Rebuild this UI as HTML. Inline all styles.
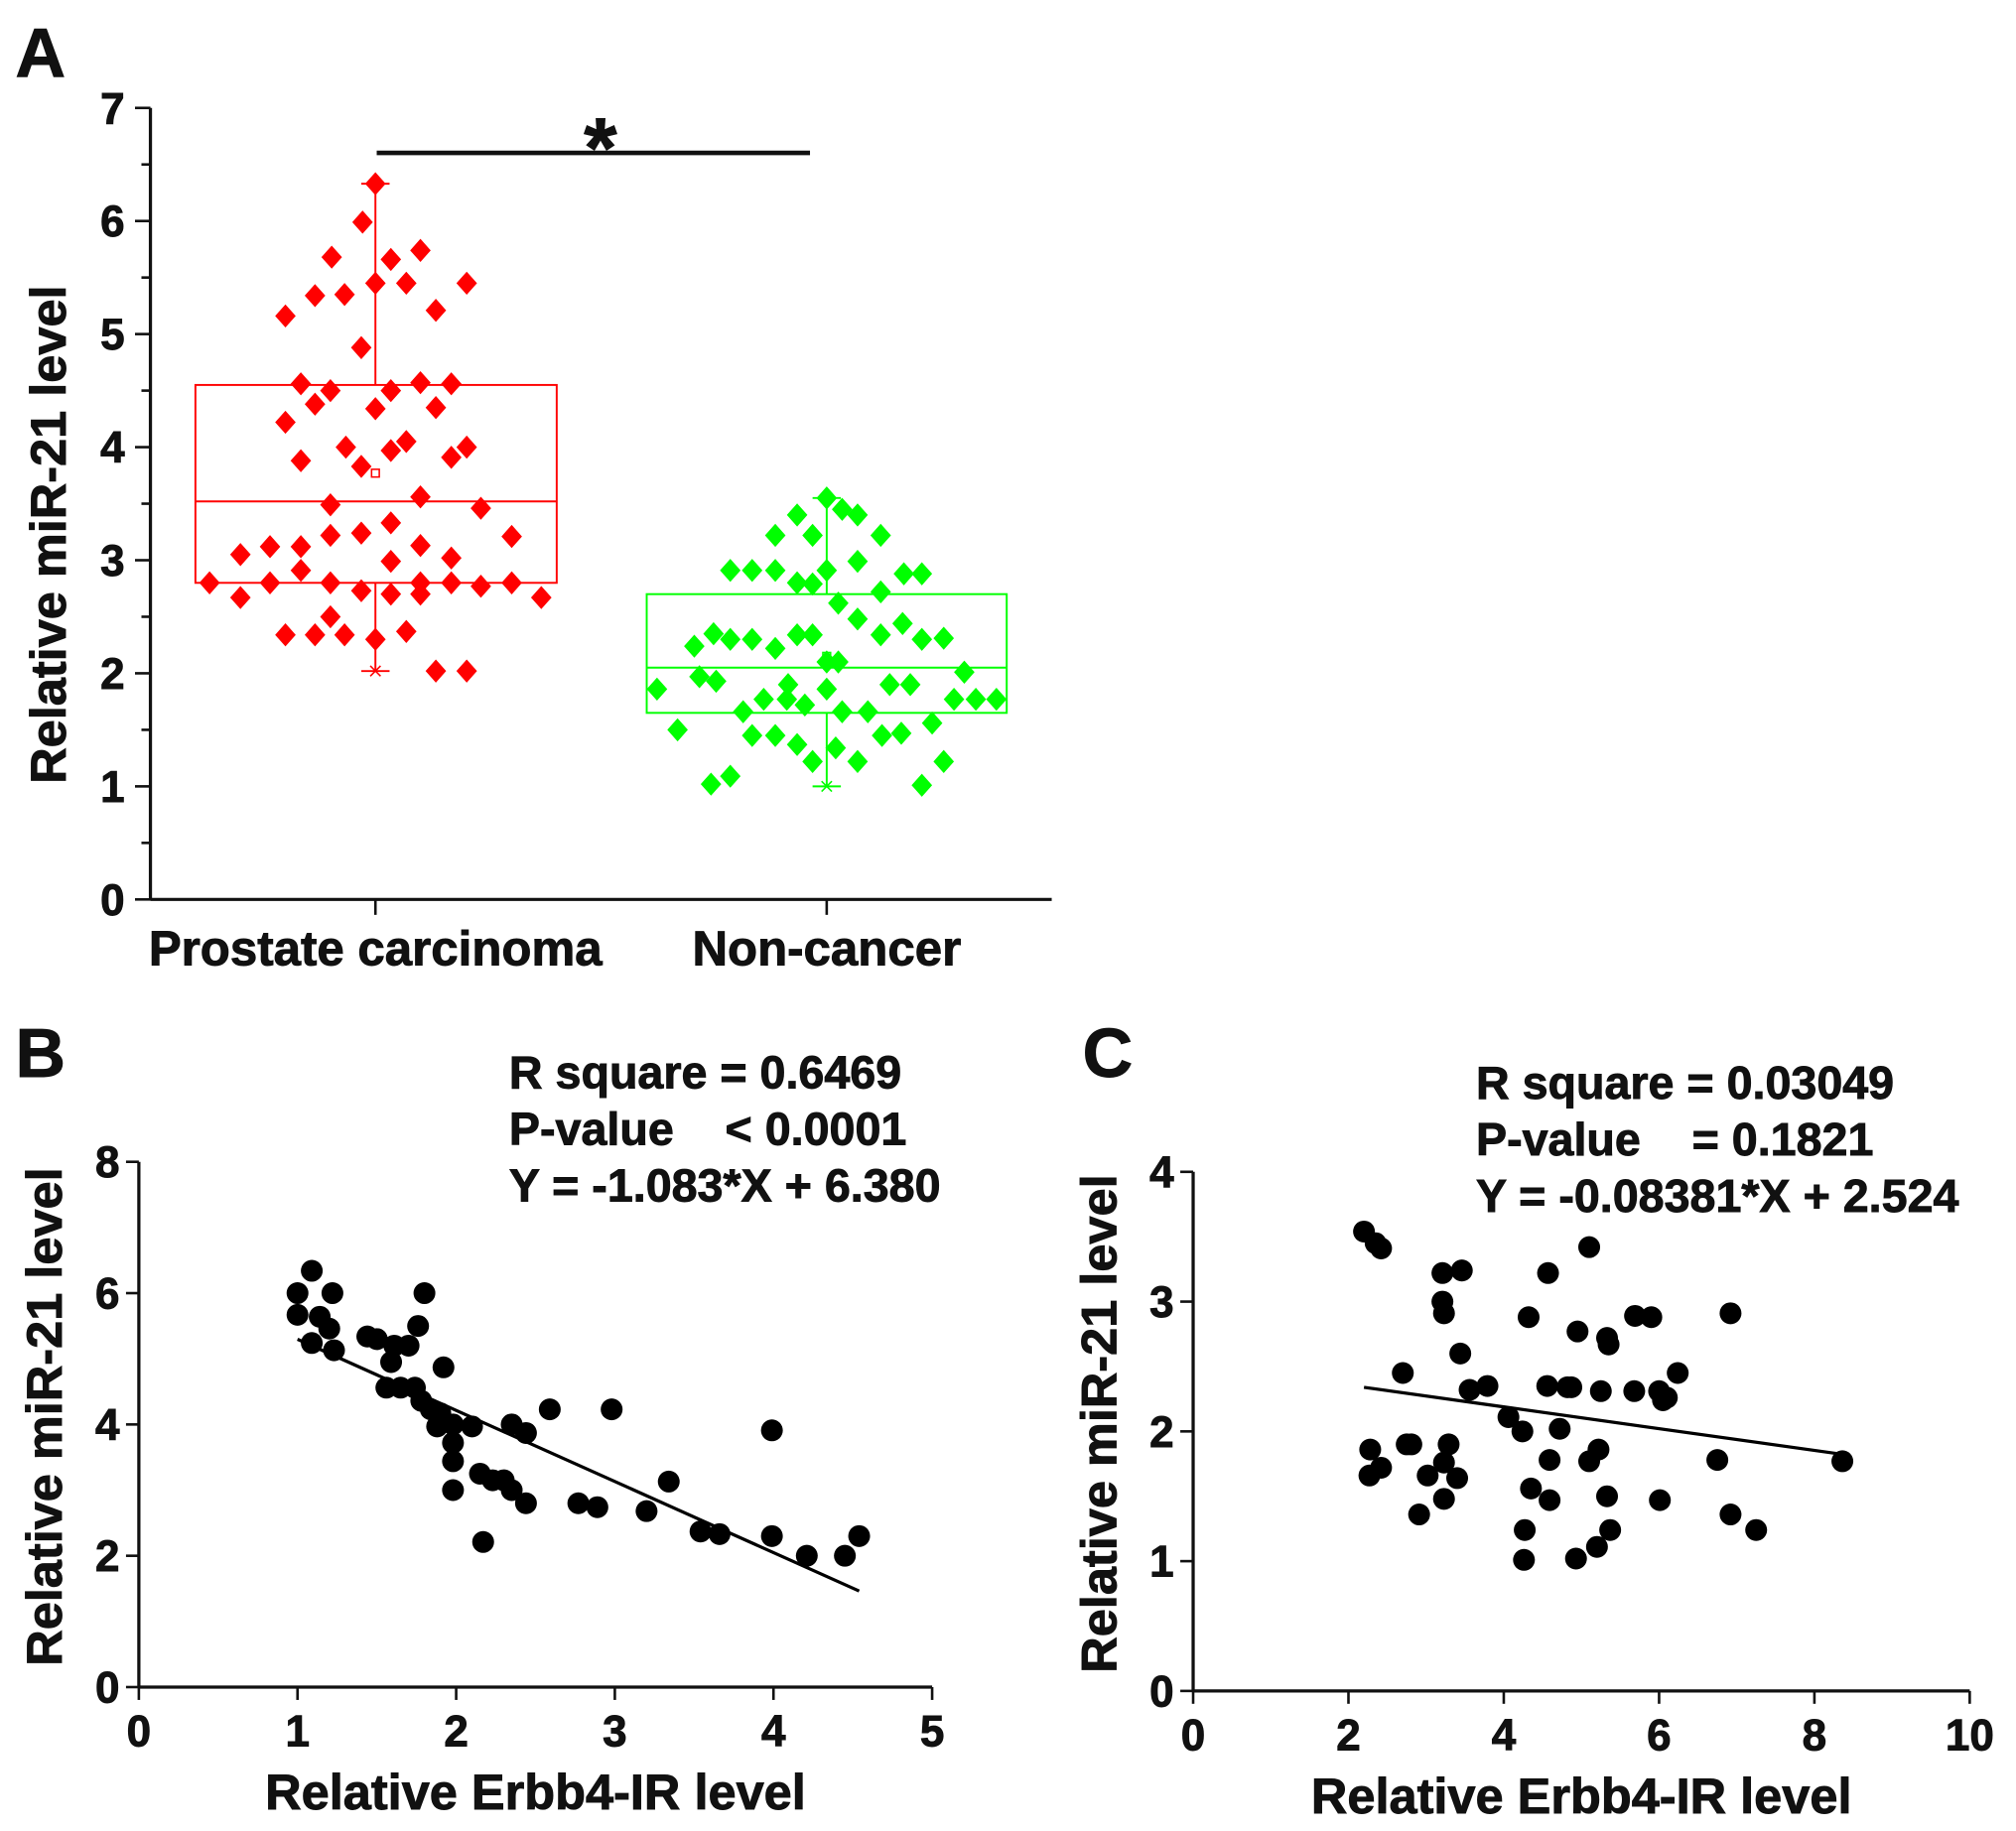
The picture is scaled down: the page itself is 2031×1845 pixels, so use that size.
<!DOCTYPE html>
<html><head><meta charset="utf-8"><style>
html,body{margin:0;padding:0;background:#fff}
svg{display:block}
text{font-family:"Liberation Sans",Arial,sans-serif;font-weight:bold;fill:#111;stroke:#111;stroke-width:0.7}
</style></head><body>
<svg id="fig" width="2031" height="1845" viewBox="0 0 1568 1425" preserveAspectRatio="none" xmlns="http://www.w3.org/2000/svg">
<g id="pA"></g>
<g id="pB"></g>
<g id="pC"></g>
</svg>
<script>
// ---- Panel A data ----
const aCategories = ["Prostate carcinoma", "Non-cancer"];
const aRedX = [292,282,258,304,327,245,268,222,292,316,363,339,281,234,257,304,327,351,245,222,292,339,269,316,304,363,351,234,281,327,257,374,304,257,281,234,210,187,327,398,234,304,351,163,210,257,327,351,374,398,187,281,304,327,421,257,222,245,268,292,316,339,363];
const aRedY = [6.33,5.99,5.68,5.66,5.74,5.34,5.35,5.16,5.45,5.45,5.45,5.21,4.88,4.56,4.50,4.50,4.57,4.56,4.38,4.22,4.34,4.35,4.00,4.05,3.97,4.00,3.91,3.88,3.83,3.56,3.49,3.46,3.33,3.22,3.24,3.12,3.12,3.05,3.13,3.21,2.91,2.99,3.02,2.80,2.80,2.80,2.80,2.80,2.77,2.80,2.67,2.73,2.70,2.70,2.67,2.50,2.34,2.34,2.34,2.30,2.37,2.02,2.02];
const aGreenX = [643,620,655,667,603,632,685,667,568,585,603,643,703,717,620,632,652,685,667,702,555,568,585,620,632,685,717,734,540,603,643,652,750,544,557,511,692,708,613,643,578,594,612,626,655,675,742,759,775,527,585,603,620,650,686,701,725,632,667,734,553,568,717];
const aGreenY = [3.55,3.40,3.45,3.40,3.22,3.22,3.22,2.99,2.91,2.91,2.91,2.91,2.88,2.88,2.80,2.79,2.62,2.72,2.48,2.44,2.35,2.30,2.30,2.34,2.34,2.34,2.30,2.31,2.24,2.22,2.10,2.10,2.01,1.97,1.93,1.86,1.90,1.90,1.90,1.86,1.66,1.77,1.77,1.72,1.66,1.66,1.77,1.77,1.77,1.50,1.45,1.45,1.37,1.34,1.45,1.47,1.56,1.22,1.22,1.22,1.02,1.09,1.01];
// box stats: [min, q1, median, mean, q3, max]
const aRedStats = [2.02, 2.80, 3.52, 3.77, 4.55, 6.33];
const aGreenStats = [1.00, 1.65, 2.05, 2.15, 2.70, 3.55];
const aYTicks = [0,1,2,3,4,5,6,7];
// ---- Panel B data ----
const bX = [1.0,1.09,1.22,1.0,1.14,1.2,1.09,1.23,1.44,1.5,1.8,1.76,1.7,1.61,1.59,1.92,1.56,1.65,1.74,1.78,1.84,1.9,1.88,1.98,2.1,1.98,1.98,1.98,2.15,2.23,2.3,2.35,2.44,2.35,2.44,2.59,2.98,2.17,2.77,2.89,3.2,3.34,3.54,3.66,3.99,3.99,4.21,4.45,4.54];
const bY = [6.0,6.34,6.0,5.67,5.64,5.46,5.24,5.13,5.34,5.3,6.0,5.5,5.2,5.2,4.95,4.87,4.56,4.56,4.56,4.36,4.23,4.17,3.97,4.0,3.97,3.72,3.44,3.0,3.25,3.15,3.15,3.0,2.8,4.0,3.87,4.23,4.23,2.21,2.8,2.74,2.68,3.13,2.37,2.33,3.91,2.3,2.0,2.0,2.3];
const bSlope = -1.083, bIntercept = 6.380, bFitRange = [1.0, 4.54];
const bXTicks = [0,1,2,3,4,5], bYTicks = [0,2,4,6,8];
// ---- Panel C data ----
const cX = [2.2,2.35,2.42,3.21,3.46,3.21,3.23,5.1,4.57,2.7,3.44,4.32,4.95,5.33,5.35,5.69,5.9,6.92,6.24,3.56,3.79,4.56,4.82,4.87,5.25,5.68,6.0,6.05,6.1,4.06,4.24,4.72,2.28,2.75,2.81,3.29,2.42,3.02,3.23,3.4,2.27,4.59,5.1,5.22,6.75,8.36,4.35,4.59,3.23,2.91,5.33,6.01,6.92,7.25,4.27,5.37,5.2,4.26,4.93];
const cY = [3.54,3.45,3.41,3.22,3.24,3.0,2.91,3.42,3.22,2.45,2.6,2.88,2.77,2.72,2.67,2.89,2.88,2.91,2.45,2.32,2.35,2.35,2.34,2.34,2.31,2.31,2.31,2.24,2.26,2.11,2.0,2.02,1.86,1.9,1.9,1.9,1.72,1.66,1.76,1.64,1.66,1.78,1.77,1.86,1.78,1.77,1.56,1.47,1.48,1.36,1.5,1.47,1.36,1.24,1.24,1.24,1.11,1.01,1.02];
const cSlope = -0.08381, cIntercept = 2.524, cFitRange = [2.2, 8.36];
const cXTicks = [0,2,4,6,8,10], cYTicks = [0,1,2,3,4];

const NS = "http://www.w3.org/2000/svg";
function mk(parent, tag, attrs, txt){
  const e = document.createElementNS(NS, tag);
  for (const k in attrs) e.setAttribute(k, attrs[k]);
  if (txt !== undefined) e.textContent = txt;
  parent.appendChild(e); return e;
}
function ln(p,x1,y1,x2,y2,c,w){return mk(p,'line',{x1:x1,y1:y1,x2:x2,y2:y2,stroke:c||'#111','stroke-width':w||2});}

// ===== Panel A =====
(function(){
  const g = document.getElementById('pA');
  const yA = v => 700 - v*88;
  const catX = [292, 643];
  let t = mk(g,'text',{x:12,y:60,'font-size':54});
  t.textContent='A';
   
  let ax = ln(g,117,84,117,700,'#111',2.5);
   
  let xa = ln(g,117,700,818,700,'#111',2.5);
   
  aYTicks.forEach(v=>{
    ln(g,105,yA(v),117,yA(v));
    if (v<7) ln(g,110,yA(v+0.5),117,yA(v+0.5));
    const tl = mk(g,'text',{x:97,y:yA(v)+12,'font-size':34,'text-anchor':'end'}, String(v));
     
  });
  aCategories.forEach((c,i)=>{
    ln(g,catX[i],700,catX[i],712);
    const tl = mk(g,'text',{x:catX[i],y:751,'font-size':38,'text-anchor':'middle'}, c);
     
  });
  const yt = mk(g,'text',{x:0,y:0,'font-size':39,'text-anchor':'middle',transform:'translate(51,416) rotate(-90)'},'Relative miR-21 level');
   
  [[aRedStats,'#ff0000',152,433,catX[0]],[aGreenStats,'#00ff00',503,783,catX[1]]].forEach(([s,col,x1,x2,cx],i)=>{
    const b = mk(g,'rect',{x:x1,y:yA(s[4]),width:x2-x1,height:yA(s[1])-yA(s[4]),fill:'none',stroke:col,'stroke-width':1.5});
     
    ln(g,x1,yA(s[2]),x2,yA(s[2]),col,1.5);
    ln(g,cx,yA(s[4]),cx,yA(s[5]),col,1.5);
    ln(g,cx,yA(s[1]),cx,yA(s[0]),col,1.5);
    ln(g,cx-11,yA(s[5]),cx+11,yA(s[5]),col,1.5);
    ln(g,cx-11,yA(s[0]),cx+11,yA(s[0]),col,1.5);
    ln(g,cx-4,yA(s[0])-4,cx+4,yA(s[0])+4,col,1.2);ln(g,cx-4,yA(s[0])+4,cx+4,yA(s[0])-4,col,1.2);
    mk(g,'rect',{x:cx-3,y:yA(s[3])-3,width:6,height:6,fill:'#fff',stroke:col,'stroke-width':1.2});
  });
  const dia = (x,y,col)=>mk(g,'polygon',{points:`${x},${y-9} ${x+8},${y} ${x},${y+9} ${x-8},${y}`,fill:col});
  aRedX.forEach((x,i)=>{const d=dia(x,yA(aRedY[i]),'#ff0000');
     });
  aGreenX.forEach((x,i)=>{const d=dia(x,yA(aGreenY[i]),'#00ff00');
     });
  const sb = ln(g,293,119,630,119,'#111',3.5);
   
  const st = mk(g,'text',{x:467,y:138,'font-size':66,'text-anchor':'middle'},'*');
   
})();

function scatter(gid, cfg){
  const g = document.getElementById(gid);
  const sx = v => cfg.x0 + v*cfg.kx, sy = v => cfg.y0 - v*cfg.ky;
  let t = mk(g,'text',{x:cfg.lx,y:cfg.ly,'font-size':54},cfg.letter);
   
  const xMax = cfg.xt[cfg.xt.length-1], yMax = cfg.yt[cfg.yt.length-1];
  let a = ln(g,cfg.x0,sy(yMax),cfg.x0,cfg.y0,'#111',2.5);
   
  a = ln(g,cfg.x0,cfg.y0,sx(xMax),cfg.y0,'#111',2.5);
   
  cfg.yt.forEach(v=>{ ln(g,cfg.x0-10,sy(v),cfg.x0,sy(v));
    const tl = mk(g,'text',{x:cfg.x0-15,y:sy(v)+12,'font-size':34,'text-anchor':'end'},String(v));
     });
  cfg.xt.forEach(v=>{ ln(g,sx(v),cfg.y0,sx(v),cfg.y0+10);
    const tl = mk(g,'text',{x:sx(v),y:cfg.y0+46,'font-size':34,'text-anchor':'middle'},String(v));
     });
  let yt = mk(g,'text',{x:0,y:0,'font-size':39,'text-anchor':'middle',transform:`translate(${cfg.ytx},${(sy(yMax)+cfg.y0)/2-6}) rotate(-90)`},'Relative miR-21 level');
   
  let xt = mk(g,'text',{x:(cfg.x0+sx(xMax))/2,y:cfg.y0+95,'font-size':39,'text-anchor':'middle'},'Relative Erbb4-IR level');
   
  cfg.X.forEach((x,i)=>{const c = mk(g,'circle',{cx:sx(x),cy:sy(cfg.Y[i]),r:8.5,fill:'#000'});
     });
  const [f0,f1] = cfg.fit;
  const fl = ln(g,sx(f0),sy(cfg.m*f0+cfg.b),sx(f1),sy(cfg.m*f1+cfg.b),'#000',2.5);
   
  cfg.ann.forEach((s,i)=>{const tx = mk(g,'text',{x:cfg.ax,y:cfg.ay+i*44,'font-size':36,'xml:space':'preserve'},s);
    tx.setAttribute('style','white-space:pre');
     });
}
scatter('pB',{pre:'b',letter:'B',lx:12,ly:838,x0:108,y0:1313,kx:123.4,ky:51.1,xt:bXTicks,yt:bYTicks,X:bX,Y:bY,m:bSlope,b:bIntercept,fit:bFitRange,ytx:48,ax:396,ay:847,
  ann:['R square = 0.6469','P-value    < 0.0001','Y = -1.083*X + 6.380']});
scatter('pC',{pre:'c',letter:'C',lx:842,ly:838,x0:928,y0:1316,kx:60.4,ky:101,xt:cXTicks,yt:cYTicks,X:cX,Y:cY,m:cSlope,b:cIntercept,fit:cFitRange,ytx:868,ax:1148,ay:855,
  ann:['R square = 0.03049','P-value    = 0.1821','Y = -0.08381*X + 2.524']});
</script>
</body></html>
